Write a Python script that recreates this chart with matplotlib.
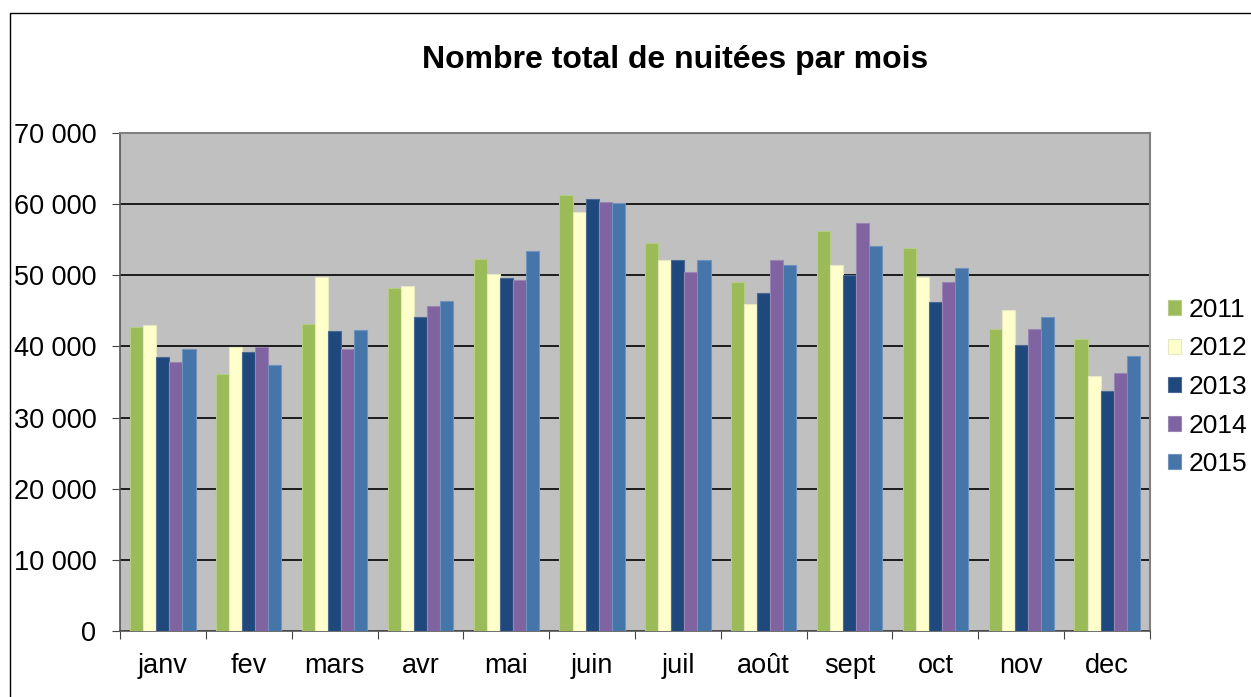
import numpy as np
import matplotlib.pyplot as plt
from matplotlib.patches import Rectangle

plt.rcParams['font.family'] = ['Liberation Sans', 'DejaVu Sans']

######## Data
months = ["janv", "fev", "mars", "avr", "mai", "juin", "juil", "août", "sept", "oct", "nov", "dec"]
years = ["2011", "2012", "2013", "2014", "2015"]

v2011 = [42800, 36100, 43100, 48200, 52300, 61300, 54600, 49100, 56200, 53800, 42500, 41000]
v2012 = [43000, 39900, 49800, 48500, 50200, 58900, 52200, 46000, 51400, 49700, 45100, 35800]
v2013 = [38500, 39200, 42200, 44200, 49600, 60700, 52200, 47500, 50100, 46200, 40200, 33700]
v2014 = [37800, 39900, 39600, 45700, 49400, 60300, 50400, 52200, 57400, 49100, 42400, 36200]
v2015 = [39600, 37400, 42300, 46400, 53400, 60200, 52100, 51500, 54100, 51000, 44200, 38600]
series = [v2011, v2012, v2013, v2014, v2015]

colors = ["#9BBB59", "#FFFFCC", "#1F497D", "#8064A2", "#4575A9"]
edges = ["#B5CC85", "#E8E8C0", "#4A6A95", "#9A85B5", "#6F93BD"]

######## Figure
fig = plt.figure(figsize=(12.51, 6.97), dpi=100)
fig.patches.append(Rectangle((10/1251, -0.01), 1.2, (697-13)/697 + 0.01, transform=fig.transFigure,
                             fill=False, edgecolor="black", linewidth=1.0))

ax = fig.add_axes([120/1251, 66/697, 1030/1251, 498/697])
ax.set_facecolor("#C0C0C0")

x = np.arange(len(months))
w = 0.152
for i, (vals, c, ec) in enumerate(zip(series, colors, edges)):
    ax.bar(x + (i - 2) * w, vals, width=w, color=c, edgecolor=ec, linewidth=0.8,
           label=years[i], zorder=3)

ax.set_xlim(-0.5, len(months) - 0.5)
ax.set_ylim(0, 70000)
yt = np.arange(0, 70001, 10000)
ax.set_yticks(yt)
ax.set_yticklabels([f"{v:,}".replace(",", " ") for v in yt], fontsize=19.5)
ax.yaxis.grid(True, color="black", linewidth=1.2, zorder=1)
ax.set_axisbelow(True)

# category ticks between groups, labels centred
ax.set_xticks(np.arange(-0.5, len(months), 1.0))
ax.set_xticklabels([])
ax.set_xticks(x, minor=True)
ax.set_xticklabels(months, minor=True, fontsize=19.5)
ax.tick_params(axis="x", which="minor", length=0, pad=16)
ax.tick_params(axis="x", which="major", length=6, direction="out", color="#444444")
ax.tick_params(axis="y", length=6, direction="out", pad=11, color="#444444")

for s in ["left", "bottom"]:
    ax.spines[s].set_color("#555555")
    ax.spines[s].set_linewidth(1.2)
for s in ["top", "right"]:
    ax.spines[s].set_color("#808080")
    ax.spines[s].set_linewidth(1.5)

fig.text(675/1251, 1 - 60/697, "Nombre total de nuitées par mois", ha="center", va="center",
         fontsize=23, fontweight="bold")

leg = ax.legend(loc="center left", bbox_to_anchor=(1168/1251, 1 - 387/697),
                bbox_transform=fig.transFigure, frameon=False, fontsize=19,
                handlelength=0.5, handleheight=0.5, handletextpad=0.3, labelspacing=0.55,
                borderaxespad=0, borderpad=0)

fig.savefig("out.png", dpi=100)
